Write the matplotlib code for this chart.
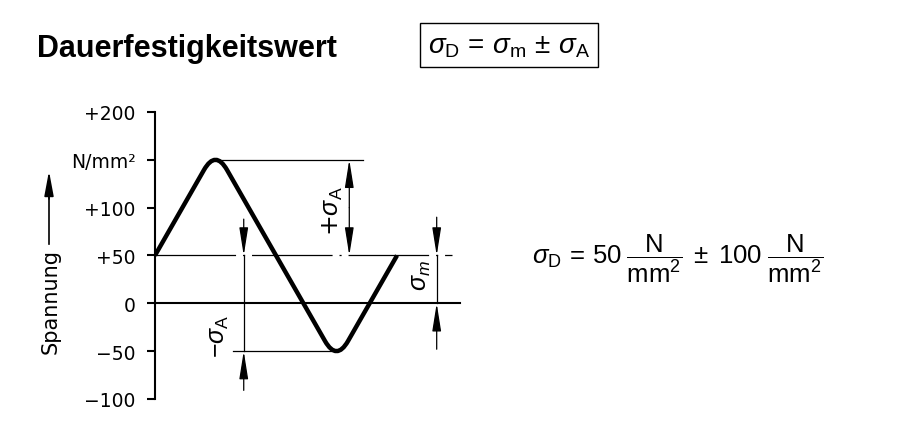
import matplotlib.pyplot as plt
from matplotlib.path import Path
from matplotlib.patches import PathPatch

plt.rcParams['font.family'] = ['DejaVu Sans']
plt.rcParams['mathtext.fontset'] = 'custom'
plt.rcParams['mathtext.rm'] = 'Liberation Sans'
plt.rcParams['mathtext.it'] = 'Liberation Sans:italic'
plt.rcParams['mathtext.bf'] = 'Liberation Sans:bold'
plt.rcParams['lines.scale_dashes'] = False

# Spannungsverlauf: Eckpunkte (Phase in Grad, Spannung in N/mm²)
phase = [0, 90, 270, 360]
spannung = [50, 150, -50, 50]

sigma_m = 50    # Mittelspannung
sigma_a = 100   # Spannungsausschlag

yticks = [-100, -50, 0, 50, 100, 150, 200]
ytick_labels = ['\u2212100', '\u221250', '0', '+50', '+100', 'N/mm²', '+200']

fig = plt.figure(figsize=(8.99, 4.35), dpi=100)
ax = fig.add_axes([0.1724, 0.0805, 0.3515, 0.6598])
ax.set_xlim(0, 470)
ax.set_ylim(-100, 200)

# Kurve mit abgerundeten Scheiteln (Ecken überhöht, damit die Rundung den Scheitel trifft)
w = 17
q = phase[1] - phase[0]
ecken = []
for i, (p, s) in enumerate(zip(phase, spannung)):
    if 0 < i < len(phase) - 1:
        s = sigma_m + (s - sigma_m) * 2 * q / (2 * q - w)
    ecken.append((p, s))
verts = [ecken[0]]
codes = [Path.MOVETO]
for i in range(1, len(ecken) - 1):
    (x0, y0), (x1, y1), (x2, y2) = ecken[i - 1], ecken[i], ecken[i + 1]
    verts += [(x1 - w, y1 - (y1 - y0) * w / (x1 - x0)), (x1, y1),
              (x1 + w, y1 + (y2 - y1) * w / (x2 - x1))]
    codes += [Path.LINETO, Path.CURVE3, Path.CURVE3]
verts.append(ecken[-1])
codes.append(Path.LINETO)
ax.add_patch(PathPatch(Path(verts, codes), fill=False, lw=3.2, ec='black',
                       joinstyle='round', capstyle='butt'))

# Null- und Mittellinie
ax.plot([0, 454], [0, 0], color='black', lw=1.5)
ax.plot([0, 442], [sigma_m, sigma_m], color='black', lw=0.9,
        dashes=(58, 5, 1.5, 5))
# Hilfslinien an Ober- und Unterspannung
ax.plot([90, 309], [sigma_m + sigma_a] * 2, color='black', lw=0.9)
ax.plot([116, 270], [sigma_m - sigma_a] * 2, color='black', lw=0.9)

pfeil = dict(arrowstyle='-|>,head_length=1.7,head_width=0.27', color='black',
             lw=0.9, shrinkA=0, shrinkB=0)


def pfeil_zu(x, y_von, y_bis):
    ax.annotate('', xy=(x, y_bis), xytext=(x, y_von), arrowprops=pfeil)


# +sigma_A
pfeil_zu(289, sigma_m + sigma_a / 2, sigma_m + sigma_a)
pfeil_zu(289, sigma_m + sigma_a / 2, sigma_m)
ax.text(283, 97, r'+$\sigma_{\mathrm{A}}$', rotation=90, ha='right', va='center',
        fontsize=18)

# -sigma_A
pfeil_zu(132, 88, sigma_m)
pfeil_zu(132, -91, sigma_m - sigma_a)
ax.plot([132, 132], [sigma_m, sigma_m - sigma_a], color='black', lw=0.9)
ax.text(113, -33, r'$-\sigma_{\mathrm{A}}$', rotation=90, ha='right', va='center',
        fontsize=18)

# sigma_m
pfeil_zu(419, 90, sigma_m)
pfeil_zu(419, -48, 0)
ax.plot([419, 419], [sigma_m, 0], color='black', lw=0.9)
ax.text(413, 30, r'$\sigma_m$', rotation=90, ha='right', va='center',
        fontsize=18)

for s in ['top', 'right', 'bottom']:
    ax.spines[s].set_visible(False)
ax.spines['left'].set_linewidth(1.5)
ax.set_xticks([])
ax.set_yticks(yticks)
ax.set_yticklabels(ytick_labels)
ax.tick_params(axis='y', direction='out', length=6, width=1.5, pad=8,
               labelsize=13.5)

# Achsbeschriftung mit Pfeil
fig.text(51 / 899, 1 - 302 / 435, 'Spannung', rotation=90, ha='center',
         va='center', fontsize=15)
fig.add_artist(plt.Line2D([49 / 899, 49 / 899], [1 - 245 / 435, 1 - 190 / 435],
                          color='black', lw=1.2))
ax.annotate('', xy=(49 / 899, 1 - 172 / 435), xytext=(49 / 899, 1 - 200 / 435),
            xycoords='figure fraction', textcoords='figure fraction',
            arrowprops=dict(arrowstyle='-|>,head_length=1.5,head_width=0.28',
                            color='black', lw=1.2, shrinkA=0, shrinkB=0))

# Titel und Formeln
fig.text(37 / 899, 1 - 57 / 435, 'Dauerfestigkeitswert', fontsize=22,
         fontweight='bold', family='Liberation Sans', va='baseline')
fig.text(509 / 899, 1 - 46 / 435,
         r'$\sigma_{\mathrm{D}}\,=\,\sigma_{\mathrm{m}}\,\pm\,\sigma_{\mathrm{A}}$',
         fontsize=20, ha='center', va='center',
         bbox=dict(boxstyle='square,pad=0.3', fc='white', ec='black', lw=1))
fig.text(678 / 899, 1 - 259 / 435,
         r'$\sigma_{\mathrm{D}}\,=\,50\;\dfrac{\mathrm{N}}{\mathrm{mm}^2}'
         r'\;\pm\;100\;\dfrac{\mathrm{N}}{\mathrm{mm}^2}$',
         fontsize=18.5, ha='center', va='center')

fig.savefig('out.png', dpi=100, facecolor='white')
